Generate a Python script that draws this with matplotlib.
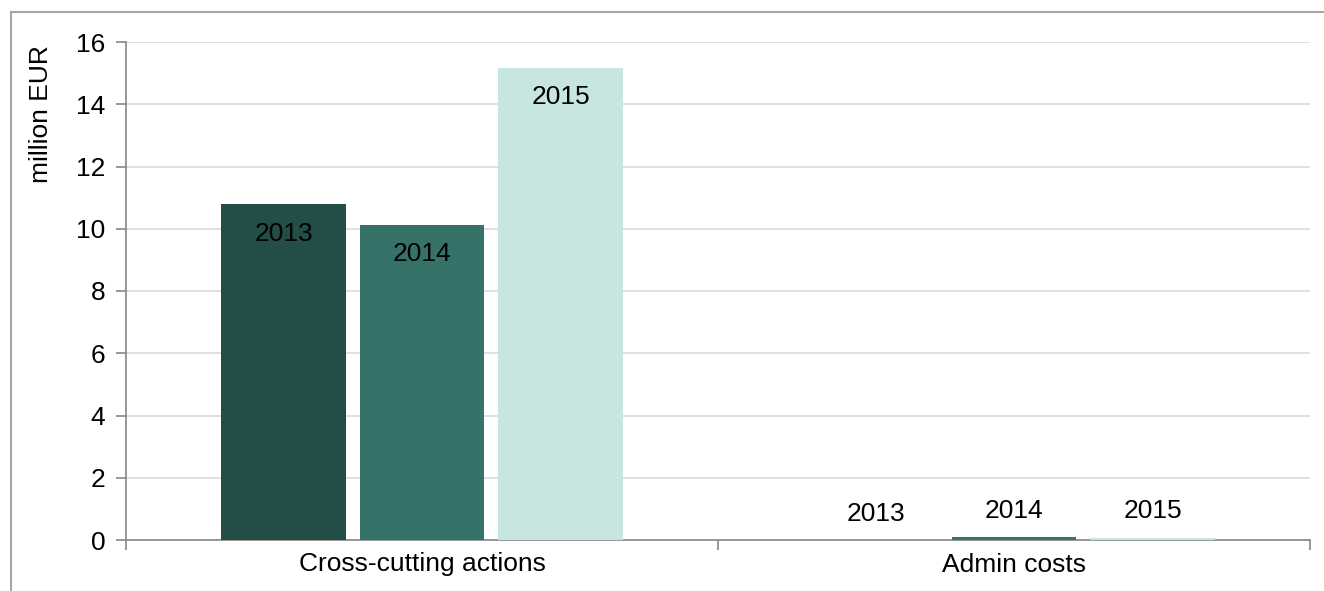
import matplotlib
matplotlib.use("Agg")
import matplotlib.pyplot as plt
from matplotlib.patches import Rectangle
import numpy as np

plt.rcParams['font.family'] = ['Liberation Sans', 'DejaVu Sans']

categories = ["Cross-cutting actions", "Admin costs"]
years = ["2013", "2014", "2015"]
values_2013 = [10.78, 0.0]
values_2014 = [10.12, 0.09]
values_2015 = [15.16, 0.08]
series = [values_2013, values_2014, values_2015]
colors = ["#234D47", "#35736A", "#C8E6E0"]
yticks = [0, 2, 4, 6, 8, 10, 12, 14, 16]

FS = 19
W, H = 1324, 591
fig = plt.figure(figsize=(W / 100, H / 100), dpi=100)
ax = fig.add_axes([126 / W, 51 / H, (1310 - 126) / W, (540 - 42) / H])

# outer frame (cropped at right and bottom)
fig.add_artist(Rectangle((11 / W, -0.1), 1.2, 1 - 12 / H + 0.1, transform=fig.transFigure,
                         fill=False, edgecolor="#A6A6A6", linewidth=1.5, clip_on=False))

x = np.arange(len(categories))
bw = 0.211
step = 0.234
for i, (vals, c, yr) in enumerate(zip(series, colors, years)):
    pos = x + (i - 1) * step
    ax.bar(pos, vals, width=bw, color=c, zorder=3)
    for p, v in zip(pos, vals):
        if v > 2:
            off = -21
        else:
            off = 19
        ax.annotate(yr, (p, v), xytext=(0, off), textcoords="offset points",
                    ha="center", va="center", fontsize=FS, color="black", zorder=4)

ax.set_xlim(-0.5, 1.5)
ax.set_ylim(0, 16)
ax.set_yticks(yticks)
ax.set_yticklabels([str(t) for t in yticks], fontsize=FS)
ax.yaxis.grid(True, color="#D9D9D9", linewidth=1.2, zorder=0)
ax.set_axisbelow(True)

ax.set_xticks([-0.5, 0.5, 1.5])
ax.set_xticklabels([])
ax.set_xticks(x, minor=True)
ax.set_xticklabels(categories, minor=True, fontsize=FS)
ax.tick_params(axis="x", which="minor", length=0, pad=9)
ax.tick_params(axis="x", which="major", length=7, color="#868686", width=1.2)
ax.tick_params(axis="y", length=7, color="#868686", width=1.2, pad=8)

for s in ["top", "right"]:
    ax.spines[s].set_visible(False)
for s in ["left", "bottom"]:
    ax.spines[s].set_color("#868686")
    ax.spines[s].set_linewidth(1.2)

fig.text(41 / W, 1 - 114 / H, "million EUR", rotation=90, ha="center", va="center", fontsize=FS)

fig.savefig("out.png", dpi=100)
